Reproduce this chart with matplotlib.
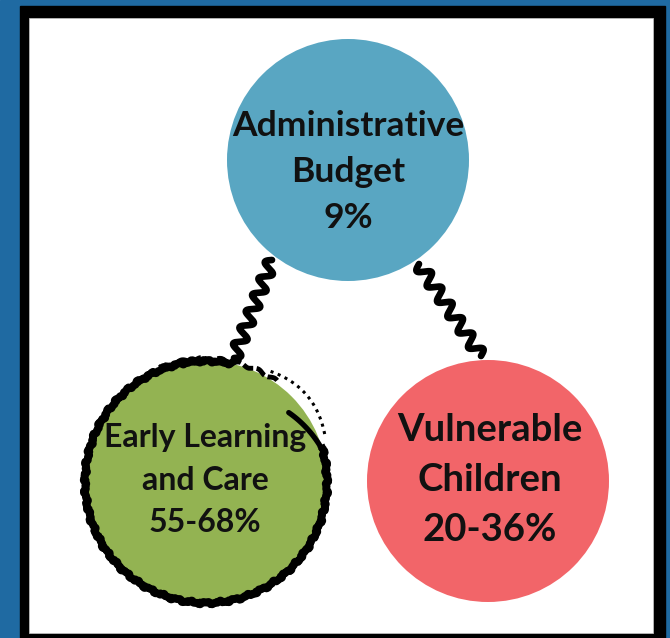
import numpy as np
import matplotlib
matplotlib.use("Agg")
import matplotlib.pyplot as plt
from matplotlib.patches import Rectangle, Circle

# ---- data ----
categories = ["Administrative\nBudget", "Early Learning\nand Care", "Vulnerable\nChildren"]
shares = ["9%", "55-68%", "20-36%"]
colors = ["#59a6c2", "#93b352", "#f26569"]

W, H = 670, 638
fig = plt.figure(figsize=(W / 100, H / 100), dpi=100)
ax = fig.add_axes([0, 0, 1, 1])
ax.set_xlim(0, W)
ax.set_ylim(H, 0)
ax.set_aspect("equal")
ax.axis("off")

# background frame
ax.add_patch(Rectangle((0, 0), W, H, color="#1f6aa2", zorder=0))
ax.add_patch(Rectangle((20, 6), 645, 640, color="black", zorder=1))
ax.add_patch(Rectangle((29, 18), 624, 615, facecolor="white", edgecolor="#bbbbbb", lw=0.6, zorder=2))

centers = [(348, 160), (206, 482), (488, 481)]
R = 121

# squiggly connectors
def squiggle(p0, p1, n_waves, amp):
    p0 = np.array(p0, float); p1 = np.array(p1, float)
    t = np.linspace(0, 1, 500)
    d = p1 - p0
    L = np.hypot(*d)
    nrm = np.array([-d[1], d[0]]) / L
    pts = p0[None, :] + t[:, None] * d[None, :] + (amp * np.sin(2 * np.pi * n_waves * t))[:, None] * nrm[None, :]
    ax.plot(pts[:, 0], pts[:, 1], color="black", lw=4.8, solid_capstyle="round", zorder=3)

squiggle((272, 260), (234, 358), 6, 6)
squiggle((419, 264), (481, 356), 6, 6)

# circles
for (cx, cy), c in zip(centers, colors):
    ax.add_patch(Circle((cx, cy), R, facecolor=c, edgecolor="none", zorder=4))

# scribbled outline around green circle (deterministic wobble)
cx, cy = centers[1]
th = np.linspace(np.radians(78), np.radians(376), 900)
for k, (r0, lw) in enumerate([(121, 5.5), (123, 2.2), (119.5, 2.0)]):
    wob = 1.0 * np.sin(53 * th + k) + 0.7 * np.sin(131 * th + 2 * k)
    r = r0 + wob
    ax.plot(cx + r * np.cos(th), cy - r * np.sin(th), color="black", lw=lw, zorder=5)
# end of stroke curving inward at upper right
th2 = np.linspace(np.radians(375), np.radians(400), 60)
r2 = np.linspace(121, 108, 60)
ax.plot(cx + r2 * np.cos(th2), cy - r2 * np.sin(th2), color="black", lw=3.8,
        solid_capstyle="round", zorder=5)
# rough scribble at top
th3 = np.linspace(np.radians(55), np.radians(112), 200)
r3 = 123 + 1.5 * np.sin(40 * th3)
ax.plot(cx + r3 * np.cos(th3), cy - r3 * np.sin(th3), color="black", lw=3.5,
        linestyle=(0, (2.2, 0.7)), zorder=5)
# scattered marks along upper right, spilling outside
th4 = np.linspace(np.radians(22), np.radians(60), 120)
r4 = 128 + 5 * np.sin(np.linspace(0, np.pi, 120))
ax.plot(cx + r4 * np.cos(th4), cy - r4 * np.sin(th4), color="black", lw=2.2,
        linestyle=(0, (1.0, 1.5)), zorder=5)

# texts
font = dict(family=["Lato", "DejaVu Sans"], color="#111111", weight="bold",
            ha="center", va="center", zorder=6)
lines0 = categories[0].split("\n") + [shares[0]]
for txt, y in zip(lines0, [126, 172, 218]):
    ax.text(centers[0][0], y, txt, fontsize=25.5, **font)
lines1 = categories[1].split("\n") + [shares[1]]
for txt, y in zip(lines1, [437, 480, 522]):
    ax.text(centers[1][0] - 1, y, txt, fontsize=23, **font)
lines2 = categories[2].split("\n") + [shares[2]]
for txt, y in zip(lines2, [430, 480, 530]):
    ax.text(centers[2][0] + 2, y, txt, fontsize=27.5, **font)

fig.savefig("out.png", dpi=100)
